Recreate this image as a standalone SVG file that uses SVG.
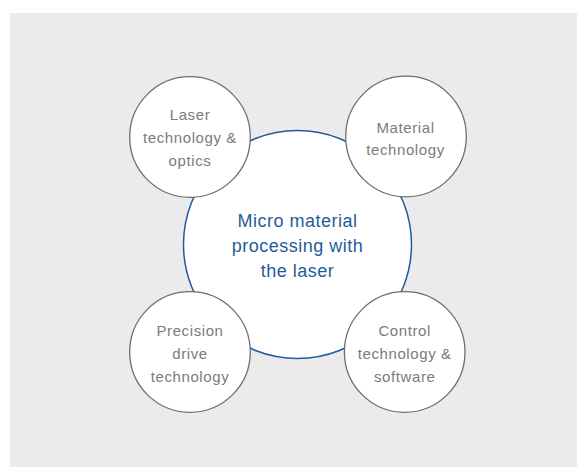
<svg xmlns="http://www.w3.org/2000/svg" width="577" height="467" viewBox="0 0 577 467">
  <style>
    .bg { fill: #ebebeb; }
    .hub { fill: #ffffff; stroke: #1f5c9b; stroke-width: 1.5; }
    .sat { fill: #ffffff; stroke: #6e6e6e; stroke-width: 1.3; }
    .t { font-family: "Liberation Sans", Arial, sans-serif; font-size: 15px; fill: #7b7b7b; text-anchor: middle; letter-spacing: 0.6px; }
    .ht { font-family: "Liberation Sans", Arial, sans-serif; font-size: 18px; fill: #1f5c9b; text-anchor: middle; letter-spacing: 0.5px; }
  </style>
  <rect class="bg" x="10" y="13" width="567" height="454"/>
  <g id="connectors"></g>
  <g id="hub">
    <circle class="hub" cx="297.5" cy="244.5" r="114"/>
    <text class="ht" x="297.5" y="227">Micro material</text>
    <text class="ht" x="297.5" y="252">processing with</text>
    <text class="ht" x="297.5" y="277">the laser</text>
  </g>
  <g id="laser">
    <circle class="sat" cx="190" cy="137" r="60.3"/>
    <text class="t" x="190" y="120">Laser</text>
    <text class="t" x="190" y="143">technology &amp;</text>
    <text class="t" x="190" y="166">optics</text>
  </g>
  <g id="material">
    <circle class="sat" cx="406" cy="136.5" r="60.3"/>
    <text class="t" x="405.5" y="132.5">Material</text>
    <text class="t" x="405.5" y="155">technology</text>
  </g>
  <g id="precision">
    <circle class="sat" cx="190" cy="352" r="60.3"/>
    <text class="t" x="190" y="336">Precision</text>
    <text class="t" x="190" y="359">drive</text>
    <text class="t" x="190" y="382">technology</text>
  </g>
  <g id="control">
    <circle class="sat" cx="404.7" cy="352" r="60.3"/>
    <text class="t" x="404.7" y="336">Control</text>
    <text class="t" x="404.7" y="359">technology &amp;</text>
    <text class="t" x="404.7" y="382">software</text>
  </g>
</svg>
